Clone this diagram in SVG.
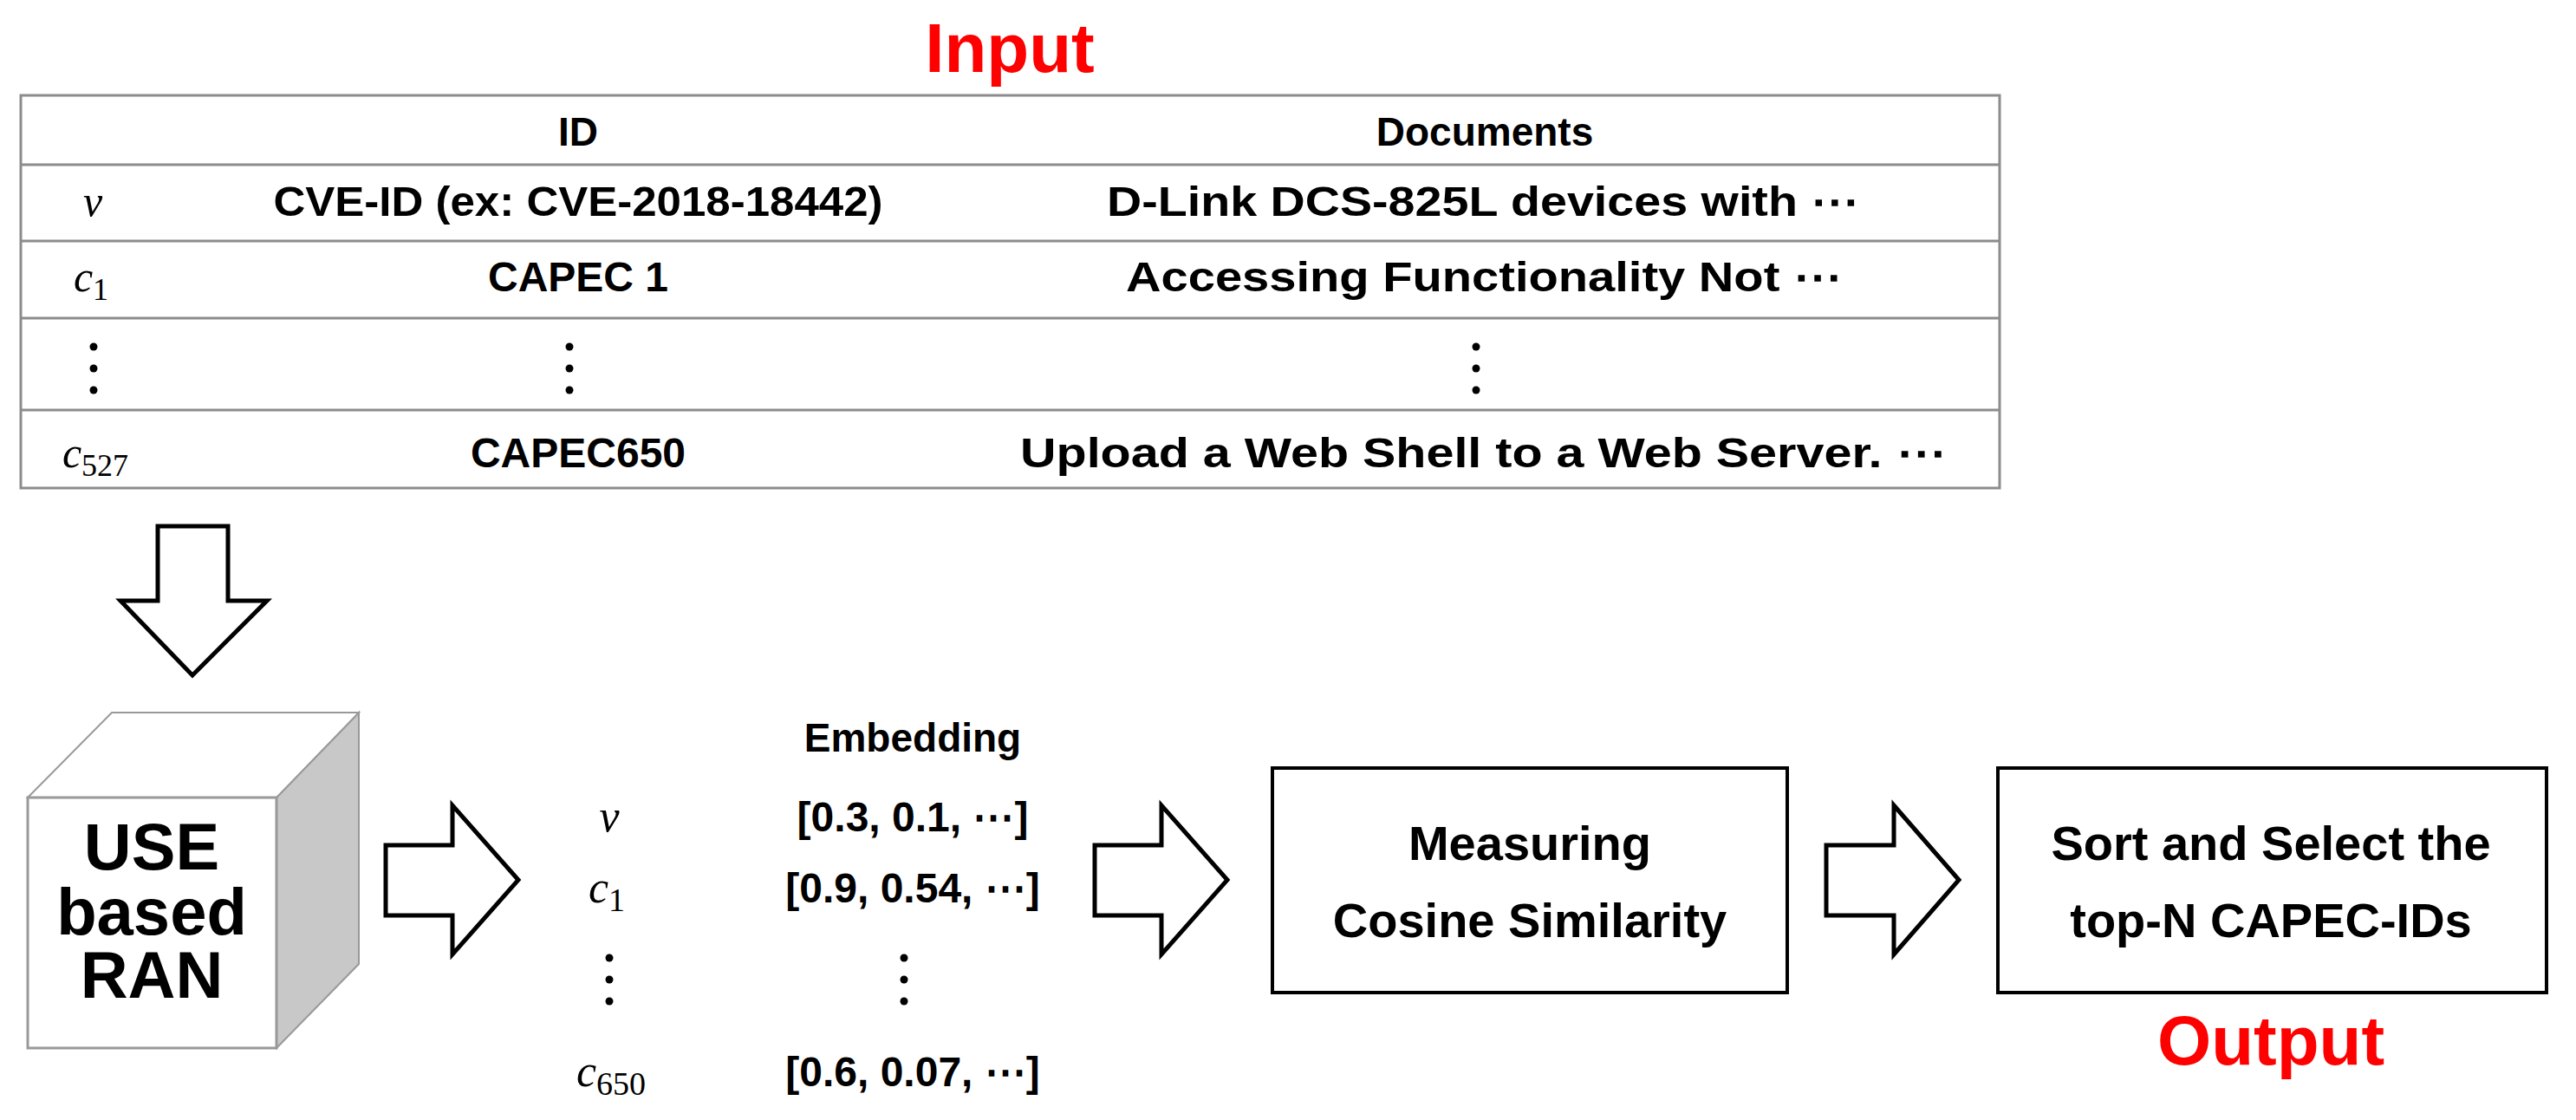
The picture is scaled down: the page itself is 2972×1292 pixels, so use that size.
<svg xmlns="http://www.w3.org/2000/svg" width="2972" height="1292" viewBox="0 0 2972 1292">
<style>
.t{font-family:"Liberation Sans Narrow","Liberation Sans",Arial,sans-serif;font-weight:bold;fill:#000;text-anchor:middle}
.m{font-family:"Liberation Serif",serif;font-style:italic;fill:#000;text-anchor:middle}
.s{font-style:normal}
.red{fill:#ff0000}
.grid{stroke:#8c8c8c;stroke-width:3;fill:none}
.arr{fill:#fff;stroke:#000;stroke-width:5;stroke-linejoin:miter}
.box{fill:#fff;stroke:#000;stroke-width:4}
.dot{fill:#000}
</style>
<defs>
<g id="vd"><circle cx="0" cy="0" r="4.5"/><circle cx="0" cy="25" r="4.5"/><circle cx="0" cy="50" r="4.5"/></g>
</defs>
<text class="t red" x="1165" y="83" font-size="80">Input</text>
<g id="table">
<rect class="grid" x="24" y="110" width="2283" height="453"/>
<line class="grid" x1="24" y1="190" x2="2307" y2="190"/>
<line class="grid" x1="24" y1="278" x2="2307" y2="278"/>
<line class="grid" x1="24" y1="367" x2="2307" y2="367"/>
<line class="grid" x1="24" y1="473" x2="2307" y2="473"/>
<text class="t" x="667" y="168" font-size="46">ID</text>
<text class="t" x="1713" y="168" font-size="46">Documents</text>
<text class="m" x="107" y="249" font-size="50">v</text>
<text class="t" x="667" y="249" font-size="48" textLength="703" lengthAdjust="spacingAndGlyphs">CVE-ID (ex: CVE-2018-18442)</text>
<text class="t" x="1711" y="249" font-size="48" textLength="868" lengthAdjust="spacingAndGlyphs">D-Link DCS-825L devices with ⋯</text>
<text class="m" x="105" y="336" font-size="50">c<tspan class="s" font-size="36" dy="10">1</tspan></text>
<text class="t" x="667" y="336" font-size="48">CAPEC 1</text>
<text class="t" x="1712" y="336" font-size="48" textLength="826" lengthAdjust="spacingAndGlyphs">Accessing Functionality Not ⋯</text>
<g class="dot"><use href="#vd" x="108" y="400"/><use href="#vd" x="657" y="400"/><use href="#vd" x="1703" y="400"/></g>
<text class="m" x="110" y="539" font-size="50">c<tspan class="s" font-size="36" dy="10">527</tspan></text>
<text class="t" x="667" y="539" font-size="48">CAPEC650</text>
<text class="t" x="1711" y="539" font-size="48" textLength="1068" lengthAdjust="spacingAndGlyphs">Upload a Web Shell to a Web Server. ⋯</text>
</g>
<g id="connectors">
<polygon class="arr" points="182,607 263,607 263,693 308,693 222,779 139,693 182,693"/>
<polygon class="arr" points="445,975 522,975 522,929 598,1015 522,1101 522,1056 445,1056"/>
<polygon class="arr" points="1263,975 1340,975 1340,929 1416,1015 1340,1101 1340,1056 1263,1056"/>
<polygon class="arr" points="2107,975 2185,975 2185,929 2260,1015 2185,1101 2185,1056 2107,1056"/>
</g>
<g id="cube">
<polygon points="319,920 414,822 414,1112 319,1209" fill="#c8c8c8" stroke="#999" stroke-width="2"/>
<polygon points="32,920 129,822 414,822 319,920" fill="#fff" stroke="#999" stroke-width="2"/>
<rect x="32" y="920" width="287" height="289" fill="#fff" stroke="#999" stroke-width="3"/>
<text class="t" x="175" y="1003" font-size="76">USE</text>
<text class="t" x="175" y="1078" font-size="76">based</text>
<text class="t" x="175" y="1151" font-size="76">RAN</text>
</g>
<g id="embedding">
<text class="t" x="1053" y="867" font-size="46">Embedding</text>
<text class="m" x="703" y="959" font-size="52">v</text>
<text class="t" x="1053" y="959" font-size="48">[0.3, 0.1, ⋯]</text>
<text class="m" x="700" y="1041" font-size="52">c<tspan class="s" font-size="38" dy="10">1</tspan></text>
<text class="t" x="1053" y="1041" font-size="48">[0.9, 0.54, ⋯]</text>
<g class="dot"><use href="#vd" x="703" y="1105"/><use href="#vd" x="1043" y="1105"/></g>
<text class="m" x="705" y="1253" font-size="52">c<tspan class="s" font-size="38" dy="10">650</tspan></text>
<text class="t" x="1053" y="1253" font-size="48">[0.6, 0.07, ⋯]</text>
</g>
<g id="cosine">
<rect class="box" x="1468" y="886" width="594" height="259"/>
<text class="t" x="1765" y="992" font-size="56">Measuring</text>
<text class="t" x="1765" y="1081" font-size="56">Cosine Similarity</text>
</g>
<g id="sort">
<rect class="box" x="2305" y="886" width="633" height="259"/>
<text class="t" x="2620" y="992" font-size="56">Sort and Select the</text>
<text class="t" x="2620" y="1081" font-size="56">top-N CAPEC-IDs</text>
</g>
<text class="t red" x="2620" y="1228" font-size="80">Output</text>
</svg>
